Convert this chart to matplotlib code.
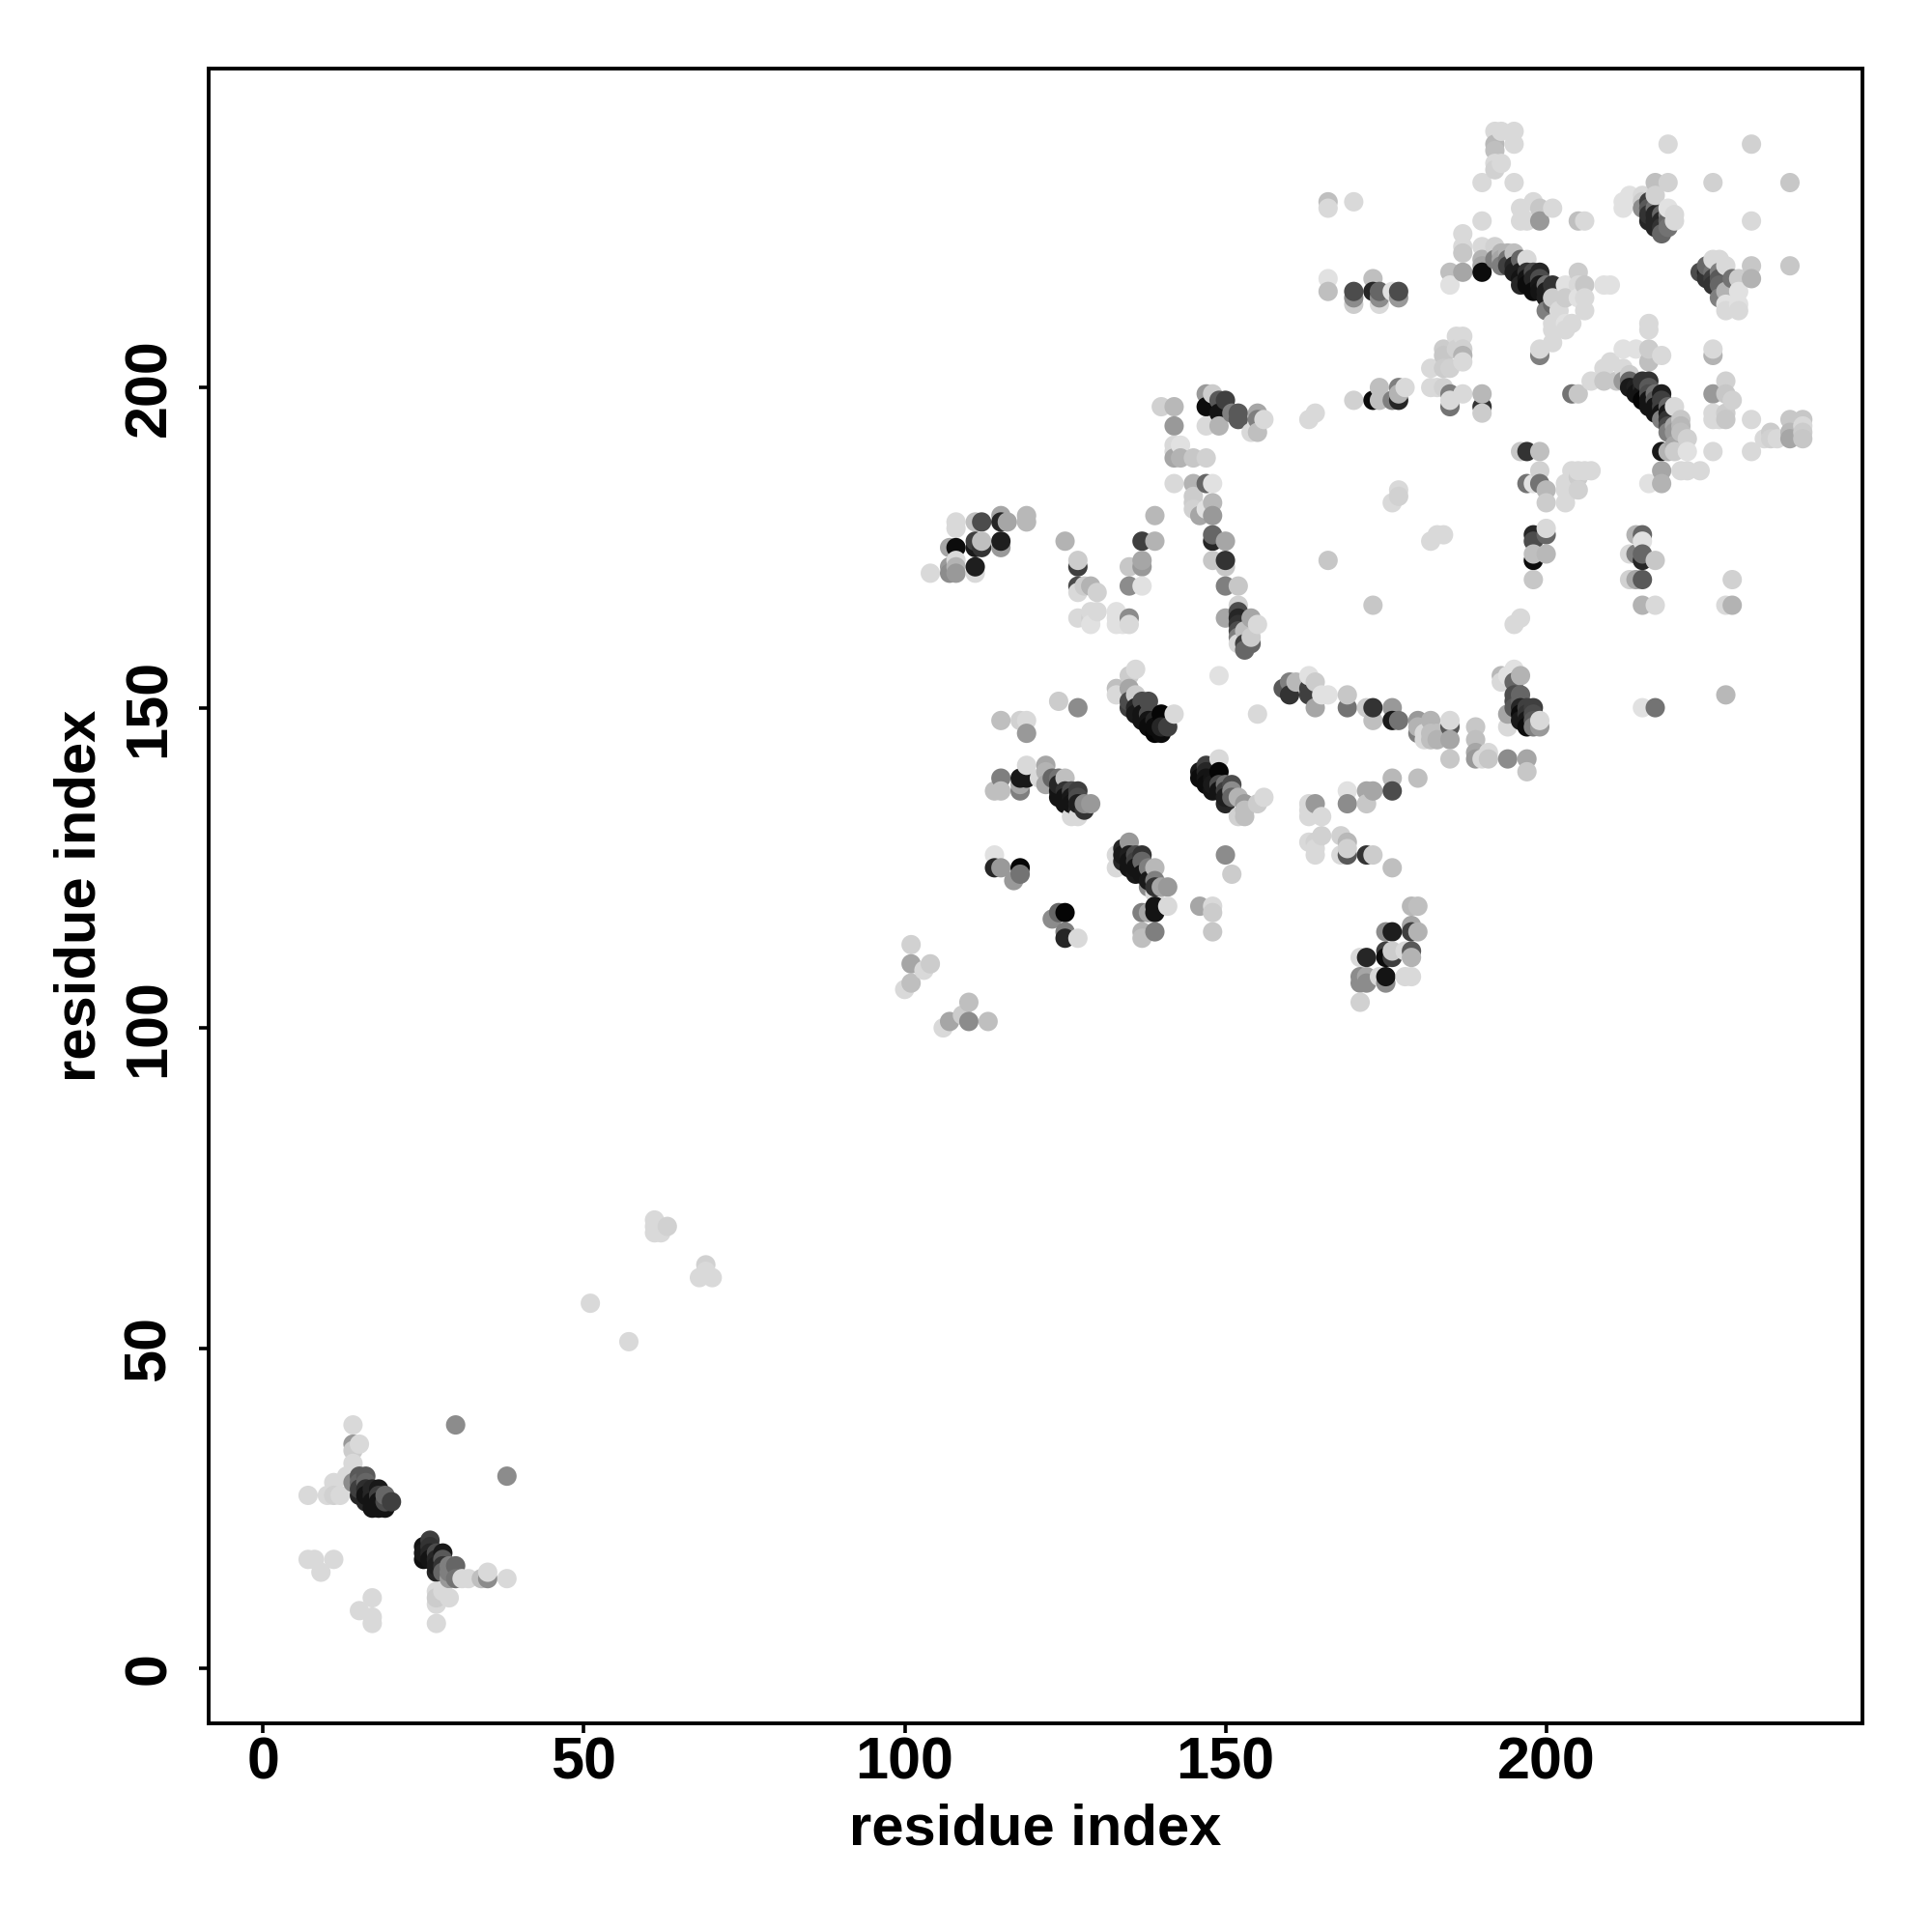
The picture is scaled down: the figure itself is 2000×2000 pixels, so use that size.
import numpy as np
import matplotlib
matplotlib.use("Agg")
import matplotlib.pyplot as plt

# (residue i, residue j, darkness 0-100), one list per patch
lower_left = [(14,38,15),(14,35,40),(15,35,15),(14,34,20),(14,32,15),(14,31,15),(13,30,15),(14,29,45),(15,30,65),(16,30,65),
    (11,29,15),(7,27,15),(10,27,15),(11,27,18),(12,27,15),(15,27,85),(17,28,85),(18,28,90),(17,25,92),(19,25,92),(18,25,92),
    (16,26,85),(19,26,70),(20,26,75),(30,38,45),(38,30,45),
    (25,19,92),(25,17,94),(25,18,90),(26,20,75),(28,18,90),(27,15,85),(30,16,60),(29,16,50),(29,14,40),(30,14,55),(31,14,15),
    (32,14,15),(34,14,25),(35,14,45),(35,15,15),(38,14,15),(7,17,15),(8,17,15),(11,17,15),(9,15,15),(17,11,15),(15,9,15),
    (17,8,15),(17,7,15),(27,12,15),(27,10,15),(28,12,15),(29,11,15),(27,11,20),(27,7,15)]

middle = [(51,57,15),(57,51,15),(61,70,15),(61,69,15),(61,68,15),(62,68,15),(63,69,18),(69,63,18),(68,61,15),(70,61,15),(69,62,15),
    (101,113,18),(101,110,35),(104,110,20),(103,109,15),(101,107,25),(100,106,15),(110,104,25),(109,102,20),(107,101,35),
    (106,100,15),(110,101,45),(113,101,25)]

block_115 = [(115,148,25),(118,148,18),(119,148,15),(119,146,40),(124,151,20),(127,150,45),
    (115,139,50),(114,137,25),(115,137,25),(118,137,50),(118,138,35),(118,139,90),(119,139,90),(119,141,15),(122,141,35),(122,140,30),
    (121,139,15),(122,138,35),(123,139,60),(124,139,55),(125,139,25),(124,137,92),(124,136,92),(125,135,92),(126,137,70),(127,137,75),
    (127,134,85),(128,134,80),(128,135,45),(129,135,40),(126,133,15),(127,133,15),
    (114,127,12),(114,125,85),(115,125,40),(118,125,98),(118,124,55),(117,123,40),
    (124,118,60),(123,117,45),(125,118,98),(125,115,50),(125,114,85),(127,114,15)]

block_135 = [(136,156,15),(135,155,20),(133,153,25),(133,152,15),(135,153,35),(136,152,20),(135,150,75),(137,151,70),(138,151,70),
    (136,150,85),(137,148,92),(138,149,70),(140,149,98),(142,149,15),(141,147,75),(139,146,98),(140,146,95),
    (149,142,15),(147,141,75),(146,140,90),(146,139,95),(149,140,98),(148,137,92),(151,138,70),(150,138,55),(150,135,85),(152,136,30),
    (153,135,40),(155,135,20),(156,136,15),(152,133,18),(153,133,25),(153,134,25),
    (135,129,40),(134,128,85),(134,126,85),(133,127,15),(133,125,15),(136,127,70),(137,127,80),(136,124,90),(137,125,92),(138,124,92),
    (139,125,28),(139,123,50),(138,122,45),(140,122,35),(141,122,40),(139,121,15),
    (139,119,92),(139,118,92),(141,119,15),(137,118,50),(138,118,35),(137,115,30),(137,114,25),(139,115,50),
    (146,119,35),(148,119,15),(148,118,20),(148,115,22),(150,127,45),(151,124,20)]

block_163 = [(164,135,40),(163,135,15),(163,133,15),(165,133,15),(163,134,15),(169,137,12),(169,135,45),(172,137,35),(173,137,35),
    (172,135,22),(176,139,28),(176,137,70),(180,139,25),(163,129,15),(164,129,18),(165,130,18),(164,127,15),(164,128,15),(168,130,18),
    (169,129,28),(168,127,15),(169,127,65),(169,128,18),(172,127,80),(173,127,20),(176,125,25),
    (179,119,28),(180,119,25),(179,116,35),(179,115,75),(180,115,30),(175,115,45),(176,115,88),(175,112,75),(175,111,95),(176,111,75),
    (176,112,20),(178,112,15),(179,112,65),(179,111,30),(171,111,15),(172,111,85),(171,108,45),(172,108,35),(171,107,45),(172,107,45),
    (174,108,15),(175,107,45),(175,108,92),(178,108,15),(179,108,15),(171,104,18)]

block_104 = [(108,179,15),(108,178,15),(111,179,25),(112,179,70),(115,180,35),(115,179,85),(116,179,35),(119,180,28),(119,179,28),
    (107,175,35),(108,175,95),(111,175,90),(111,176,75),(112,175,80),(112,176,25),(115,175,40),(115,176,88),
    (104,171,15),(107,172,40),(107,171,45),(108,173,15),(108,172,30),(108,171,40),(111,171,15),(111,172,88),
    (125,176,30),(127,172,75),(127,173,20),(127,169,70),(127,168,15),(128,169,20),(129,169,30),(130,168,18),
    (127,164,15),(129,164,18),(130,165,15),(129,165,15),(129,163,12),(133,165,12),(133,164,12),(133,163,12),(134,163,12),(135,164,45),(135,163,15),
    (139,180,28),(137,176,75),(139,176,30),(135,172,22),(137,172,40),(137,173,35),(135,169,45),(137,169,12)]

block_140 = [(140,197,18),(142,197,28),(142,194,40),(147,199,40),(148,199,20),(147,197,95),(149,198,65),(150,198,75),(149,196,92),
    (149,194,30),(147,194,15),(151,196,50),(152,196,65),(152,195,65),(155,196,35),(155,195,50),(156,195,15),(154,193,15),(155,193,25),
    (163,195,15),(164,196,15),(142,185,15),(145,185,30),(147,185,60),(148,185,12),(145,183,20),(145,182,20),(145,181,18),(146,180,35),
    (148,182,28),(148,180,40),(147,181,12),(142,191,15),(143,191,12),(142,190,15),(142,189,35),(143,189,30),(145,189,22),(147,189,18),
    (148,176,85),(148,177,60),(150,176,35),(148,173,22),(150,172,22),(150,173,80),(150,169,50),(152,169,22),(152,166,18),(150,164,35),
    (152,165,70),(152,164,85),(152,163,80),(152,162,70),(152,161,50),(154,164,35),(155,163,15),(153,162,25),(152,160,15),(153,160,75),(153,159,60),(154,160,60),(154,161,20),
    (149,155,12),(155,149,15),(166,173,22),(173,166,22)]

block_159 = [(159,153,65),(160,154,50),(160,152,80),(161,154,28),(163,153,75),(163,152,75),(163,155,12),(164,154,20),(165,152,12),
    (166,152,12),(164,150,35),(169,150,55),(169,152,22),(172,150,20),(173,148,25),(173,150,80),(176,150,40),(176,148,90),(177,148,55),
    (180,148,40),(180,146,50),(180,147,30),(181,146,15),(181,145,15),(182,148,30),(182,146,25),(182,145,25),(183,146,25),(183,145,30),
    (185,147,65),(185,148,15),(185,145,35),(189,147,22),(189,145,25),(189,143,35),(189,142,40),(190,142,15),(191,143,15),(191,142,22),
    (194,142,45),(197,142,35),(197,140,22),(185,142,22),(194,147,15),(193,155,28),(193,154,15),(195,156,12),(194,155,12),(196,155,30),
    (195,154,60),(195,152,70),(195,151,70),(196,152,60),(196,151,60),(194,149,35),(195,150,65),(196,150,85),(196,149,95),(196,148,90),(197,150,75),(197,149,80),(197,148,90),(197,147,95),
    (198,150,75),(198,149,70),(198,148,65),(198,147,50),(199,147,40),(199,148,15),
    (215,150,12),(217,150,55),(228,152,28),(195,163,15),(196,164,15)]

block_170 = [(170,198,18),(173,198,95),(174,200,25),(174,198,25),(176,198,50),(177,198,85),(177,200,50),(177,199,30),(178,200,15),
    (182,200,15),(183,200,15),(184,200,18),(185,197,55),(185,199,50),(185,198,15),(187,199,15),(190,197,80),(190,199,28),(190,196,20),
    (196,190,22),(197,190,80),(199,190,25),(197,185,55),(198,185,12),(199,187,18),(199,185,55),(200,184,28),(200,182,20),(203,185,15),
    (203,182,15),(205,186,20),(204,187,15),(205,187,15),(206,187,15),(207,187,15),(203,184,15),(204,184,15),(205,184,18),
    (177,184,15),(177,183,18),(176,182,15),(182,176,15),(183,177,15),(184,177,15),
    (198,177,85),(198,176,70),(200,177,60),(200,178,15),(198,173,95),(198,174,25),(200,174,28),(198,170,22),
    (214,177,30),(215,177,60),(215,176,12),(213,174,15),(214,174,50),(215,173,85),(215,174,60),(217,173,22),(213,170,18),(214,170,35),
    (215,170,65),(215,166,30),(217,166,15),(229,170,18),(228,166,15),(229,166,30)]

top_left = [(166,229,25),(166,228,15),(170,229,15),(166,217,12),(166,215,25),(170,213,20),(170,214,45),(170,215,70),(173,217,25),(173,215,85),
    (174,213,15),(174,214,45),(174,215,60),(176,215,12),(177,214,40),(177,215,70),(185,218,25),(187,218,35),(185,216,12),
    (187,224,15),(187,222,15),(187,221,22),(190,226,15),(190,232,15),(192,240,15),(193,240,15),(195,240,15),(192,238,28),(195,238,15),
    (192,237,25),(192,235,15),(193,235,15),(192,234,18),(195,232,15),(196,228,15),(196,226,15),(197,226,15),(198,229,15),(199,228,22),
    (199,226,40),(201,228,15),(205,226,25),(206,226,15),
    (186,208,15),(187,208,15),(184,206,20),(186,206,18),(187,206,18),(184,205,22),(187,205,30),(187,204,15),(182,203,15),(184,203,20),(185,203,18)]

helix_195 = [(190,222,15),(190,220,30),(190,219,35),(190,218,95),(192,222,18),(192,220,50),(193,221,30),(193,220,35),(193,219,50),(194,221,30),(194,220,55),(194,219,75),
    (195,221,25),(195,219,85),(195,218,88),(196,220,60),(196,218,88),(196,217,92),(196,216,85),(197,220,15),(197,218,80),(197,217,92),(197,216,95),(198,218,70),(198,217,85),(198,215,95),
    (199,218,85),(199,217,70),(199,216,90),(199,215,92),(200,216,55),(200,215,88),(200,214,88),(201,215,85),
    (200,212,50),(201,216,80),(201,213,60),(201,214,20),(203,216,12),(203,214,20),(202,212,15),(205,218,20),(205,216,15),(205,214,12),
    (206,216,22),(206,214,15),(206,212,15),(209,216,12),(210,216,12),(201,210,15),(203,210,12),(204,210,15),(201,209,15),(203,209,15),
    (201,207,15),(199,205,50),(199,206,15)]

helix_215 = [(216,210,15),(216,209,15),(212,206,12),(214,206,12),(216,204,25),(216,206,20),(218,205,15),(226,205,30),(226,206,15),
    (210,204,15),(209,203,15),(207,201,15),(204,199,55),(205,199,22),(209,201,22),(211,201,22),(212,203,15),(212,201,40),(213,202,20),
    (213,201,60),(213,200,90),(214,200,88),(214,199,92),(215,200,85),(215,199,92),(215,198,98),(215,201,80),(216,201,80),(216,200,65),(216,199,70),(216,198,92),(216,197,92),
    (217,199,55),(217,198,65),(217,197,92),(217,196,92),(218,199,88),(218,198,75),(218,197,75),(218,196,92),(218,195,50),(219,197,60),(219,196,90),(219,195,80),(219,194,70),(219,193,50),
    (220,197,15),(220,194,35),(220,193,40),(221,195,22),(221,194,28),(221,193,25),(222,192,18),(218,190,90),(219,190,30),(220,191,35),(220,190,20),(222,190,12),
    (226,190,15),(232,190,15),(232,195,15),(218,187,35),(221,187,15),(222,187,15),(224,187,15),(216,185,12),(218,185,30),
    (226,199,40),(228,201,18),(228,199,22),(229,198,18),(226,196,15),(226,195,15),(228,196,20),(227,195,15),(228,195,22),
    (234,192,15),(235,193,20),(235,192,18),(236,192,15),(238,195,22),(238,193,28),(238,192,35),(240,195,22),(240,194,15),(240,193,20),(240,192,22)]

top_right = [(219,238,15),(232,238,18),(217,232,25),(219,232,18),(226,232,18),(238,232,22),(232,226,15),(238,219,22),
    (212,229,12),(212,228,12),(213,230,12),(215,230,15),(215,229,20),(215,228,45),(216,226,85),(216,229,75),(216,228,65),(216,227,80),(217,228,55),(217,227,85),(217,226,85),(217,225,85),(217,230,18),
    (218,227,60),(218,226,85),(218,225,80),(218,224,60),(219,227,50),(219,226,60),(219,225,55),(219,228,12),(220,226,15),(220,227,15),
    (224,218,70),(225,218,85),(225,217,80),(225,219,60),(226,218,55),(226,217,75),(226,216,80),(226,220,15),(227,220,15),(227,218,50),(227,217,65),(227,216,60),(227,214,50),(228,219,15),(228,215,30),(228,213,12),
    (228,212,15),(229,217,55),(230,217,20),(230,215,12),(230,213,12),(230,212,15),(232,219,22),(232,217,30)]

# darker runs inside the strands, where the dots merge into bands
helix_core = [(15,29,60),(15,28,75),(16,29,60),(16,28,82),(16,27,92),(17,27,85),(17,26,92),(18,27,75),(18,26,92),(19,27,60),
    (26,19,80),(26,18,85),(26,17,92),(27,18,70),(27,17,85),(27,16,88),(28,17,65),(28,16,80),(28,15,60),(29,15,50),
    (124,138,85),(125,137,80),(125,136,92),(126,136,90),(126,135,92),(127,136,70),(127,135,88),
    (135,151,70),(136,149,90),(137,149,92),(138,148,92),(138,147,95),(139,148,85),(139,147,95),(140,147,85),
    (147,140,85),(147,139,92),(147,138,95),(148,139,92),(148,138,90),(149,138,70),(149,137,92),(150,137,75),(150,136,88),(151,137,45),(151,136,60),
    (134,127,90),(135,127,88),(135,126,92),(135,125,92),(136,126,75),(136,125,92),(137,126,60),(137,124,92),(138,125,50),(138,123,90),(139,122,80)]

all_points = np.array(lower_left + middle + block_115 + block_135 + block_163 + block_104 + block_140
                      + block_159 + block_170 + top_left + helix_195 + helix_215 + top_right + helix_core, dtype=float)
# later residues sit on top of earlier ones
all_points = all_points[np.argsort(all_points[:, 0], kind="stable")]

ticks = [0, 50, 100, 150, 200]

plt.rcParams["font.family"] = ["Liberation Sans", "DejaVu Sans"]
plt.rcParams["font.weight"] = "bold"

fig = plt.figure(figsize=(10, 10), dpi=200)
ax = fig.add_axes([0.108, 0.108, 0.856, 0.8565])
ax.scatter(all_points[:, 0], all_points[:, 1], c=all_points[:, 2], cmap="gray_r", vmin=0, vmax=100,
           s=52, linewidths=0)
ax.set_xlim(-8.5, 249.3)
ax.set_ylim(-8.6, 249.8)
ax.set_xticks(ticks)
ax.set_yticks(ticks)
ax.tick_params(length=3.5, width=1.3, labelsize=22)
ax.tick_params(axis="x", pad=1.5)
ax.tick_params(axis="y", pad=8)
for lab in ax.get_yticklabels():
    lab.set_rotation(90)
    lab.set_va("center")
for sp in ax.spines.values():
    sp.set_linewidth(1.4)
ax.set_xlabel("residue index", fontsize=21.5, fontweight="bold", labelpad=4)
ax.set_ylabel("residue index", fontsize=21.5, fontweight="bold", labelpad=6)
fig.savefig("out.png", dpi=200, facecolor="white")
